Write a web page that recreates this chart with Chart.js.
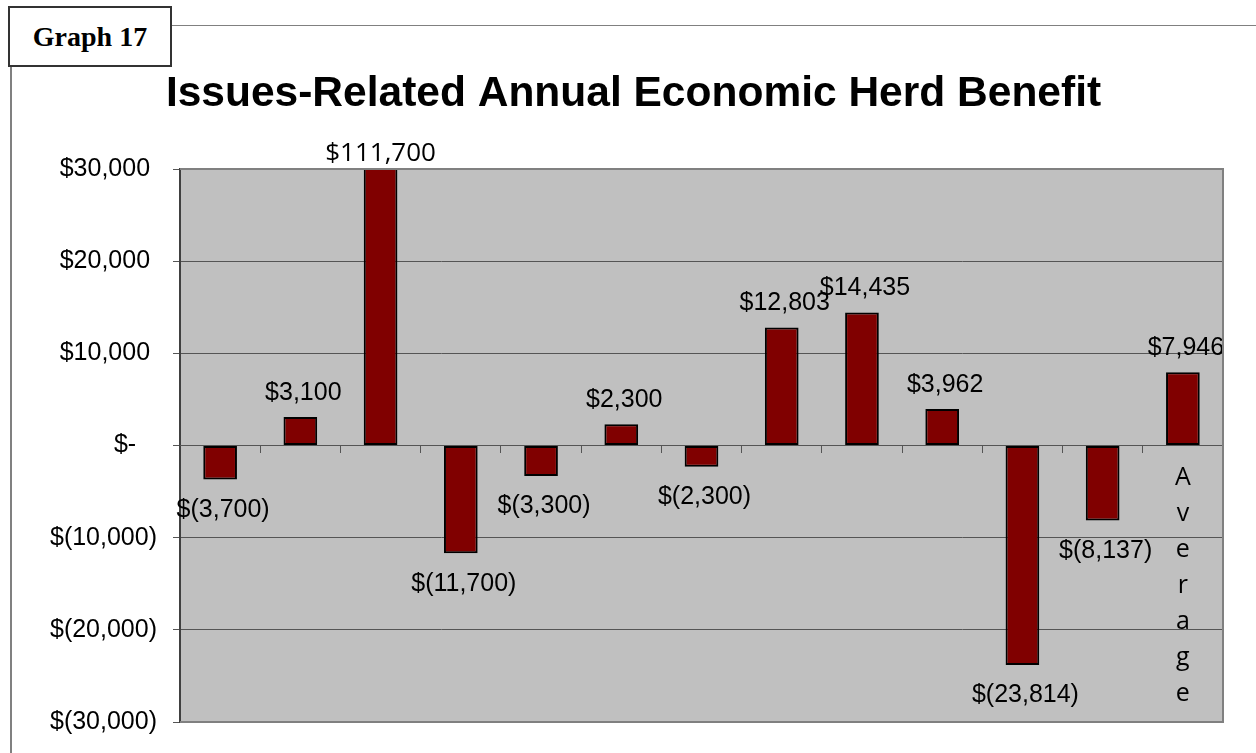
<!DOCTYPE html>
<html lang="en">
<head>
<meta charset="UTF-8">
<title>Graph 17</title>
<script src="https://cdn.jsdelivr.net/npm/chart.js"></script>
<style>
  body { margin: 0; background: #fff; }
  #wrap { position: relative; width: 1256px; height: 753px; overflow: hidden; }
  #chart { position: absolute; left: 0; top: 0; }
  .tag {
    position: absolute; left: 8px; top: 6px; width: 160px; height: 57px;
    border: 2px solid #333; background: #fff;
    font: bold 28px "Liberation Serif", "Times New Roman", serif;
    display: flex; align-items: center; justify-content: center; z-index: 2;
  }
  .hline { position: absolute; left: 172px; top: 25px; width: 1084px; height: 1px; background: #808080; }
  .vline { position: absolute; left: 10px; top: 67px; width: 2px; height: 686px; background: #808080; }
</style>
</head>
<body>
<div id="wrap">
  <canvas id="chart" width="1256" height="753"></canvas>
  <div class="hline"></div>
  <div class="vline"></div>
  <div class="tag">Graph 17</div>
</div>

<script>
  // values
  const categories = ['', '', '', '', '', '', '', '', '', '', '', '', 'Average'];
  const benefit = [-3700, 3100, 111700, -11700, -3300, 2300, -2300, 12803, 14435, 3962, -23814, -8137, 7946];
  const yTicks = [-30000, -20000, -10000, 0, 10000, 20000, 30000];

  function money(v) {
    if (v === 0) return '$-\u2007 ';
    const s = Math.abs(v).toLocaleString('en-US');
    return v < 0 ? '$(' + s + ')' : '$' + s + ' ';
  }

  // grey plot area with its frame
  const plotArea = {
    id: 'plotArea',
    beforeDraw(chart) {
      const { ctx, chartArea: a } = chart;
      ctx.save();
      ctx.fillStyle = '#c0c0c0';
      ctx.fillRect(a.left, a.top, a.right - a.left, a.bottom - a.top);
      ctx.restore();
    },
    afterDraw(chart) {
      const { ctx, chartArea: a } = chart;
      ctx.save();
      ctx.strokeStyle = '#808080';
      ctx.lineWidth = 2;
      ctx.beginPath();
      ctx.moveTo(a.left, a.top);
      ctx.lineTo(a.right, a.top);
      ctx.lineTo(a.right, a.bottom);
      ctx.lineTo(a.left, a.bottom);
      ctx.stroke();
      ctx.restore();
    }
  };

  // value labels above / below each bar
  const valueLabels = {
    id: 'valueLabels',
    afterDatasetsDraw(chart) {
      const { ctx, chartArea: a } = chart;
      const meta = chart.getDatasetMeta(0);
      ctx.save();
      ctx.fillStyle = '#000';
      ctx.textAlign = 'center';
      ctx.textBaseline = 'alphabetic';
      meta.data.forEach((bar, i) => {
        const v = benefit[i];
        const x = bar.x + 3;
        if (bar.y < a.top) {
          // bar runs off the top of the axis
          ctx.font = '26px "Open Sans", sans-serif';
          ctx.fillText(money(v).trim(), x - 3, a.top - 8);
        } else if (v >= 0) {
          ctx.font = '25px "Liberation Sans", Arial, sans-serif';
          ctx.fillText(money(v).trim(), x, bar.y - 17);
        } else {
          ctx.font = '25px "Liberation Sans", Arial, sans-serif';
          ctx.fillText(money(v), x, bar.y + 37.5);
        }
      });
      ctx.restore();
    }
  };

  new Chart(document.getElementById('chart'), {
    type: 'bar',
    data: {
      labels: categories,
      datasets: [{
        data: benefit,
        backgroundColor: '#800000',
        borderColor: '#000',
        borderWidth: 2,
        borderSkipped: false,
        barPercentage: 0.42,
        categoryPercentage: 1,
        clip: 0
      }]
    },
    options: {
      responsive: false,
      animation: false,
      layout: { padding: { left: 44, right: 33, top: 0, bottom: 29 } },
      plugins: {
        legend: { display: false },
        tooltip: { enabled: false },
        title: {
          display: true,
          text: 'Issues-Related Annual Economic Herd Benefit',
          color: '#000',
          font: { family: '"Liberation Sans", Arial, sans-serif', size: 42.5, weight: 'bold', lineHeight: 1.2 },
          padding: { top: 69, bottom: 49 }
        }
      },
      scales: {
        y: {
          min: -30000,
          max: 30000,
          afterBuildTicks: (scale) => { scale.ticks = yTicks.map(v => ({ value: v })); },
          afterFit: (scale) => { scale.width = 136; },
          border: { display: true, color: '#404040', width: 2 },
          grid: { color: '#555', lineWidth: 1, tickLength: 7 },
          ticks: {
            color: '#000',
            padding: 16,
            font: { family: '"Liberation Sans", Arial, sans-serif', size: 25 },
            callback: (v) => money(v)
          }
        },
        x: {
          position: { y: 0 },
          afterFit: (scale) => { scale.height = 0; },
          border: { display: true, color: '#555', width: 1 },
          grid: { drawOnChartArea: false, offset: true, tickLength: 7, color: '#555' },
          ticks: {
            color: '#000',
            padding: 7,
            maxRotation: 0,
            autoSkip: false,
            font: { family: '"Open Sans", sans-serif', size: 25, lineHeight: 1.445 },
            callback: function (v, i) { return categories[i].split(''); }
          }
        }
      }
    },
    plugins: [plotArea, valueLabels]
  });
</script>
</body>
</html>
